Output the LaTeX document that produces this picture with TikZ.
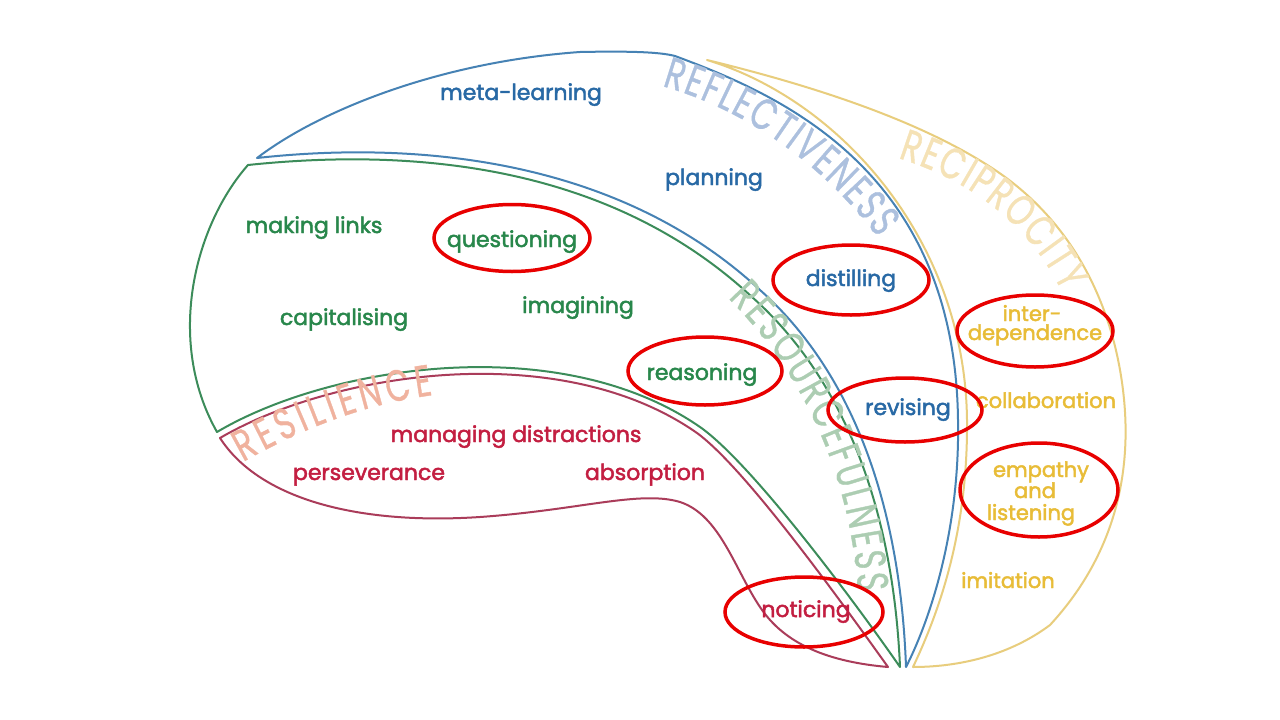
\documentclass[tikz,border=0pt]{standalone}
\usepackage{fontspec}
\setmainfont{Poppins}
\newfontfamily\wordfont{Poppins}[FakeBold=2.2]
\newfontfamily\labfont[FakeStretch=0.72,FakeBold=0.8]{Poppins}
\usetikzlibrary{decorations.text}
\definecolor{blueline}{RGB}{70,130,180}
\definecolor{greenline}{RGB}{60,140,90}
\definecolor{redline}{RGB}{170,60,90}
\definecolor{yellowline}{RGB}{232,205,125}
\definecolor{bluetext}{RGB}{40,105,165}
\definecolor{greentext}{RGB}{40,135,75}
\definecolor{redtext}{RGB}{195,30,65}
\definecolor{yellowtext}{RGB}{232,188,55}
\definecolor{reflc}{RGB}{172,192,222}
\definecolor{recipc}{RGB}{245,226,182}
\definecolor{resourc}{RGB}{172,205,178}
\definecolor{resilc}{RGB}{240,178,158}
\definecolor{hlred}{RGB}{232,0,0}
\newcommand\biglab{\labfont\fontsize{44}{44}\selectfont}
\begin{document}
\begin{tikzpicture}[x=1pt,y=1pt,
  region/.style={line width=2pt,line join=round},
  word/.style={font=\wordfont\fontsize{22}{24}\selectfont,anchor=base,inner sep=0pt},
  bw/.style={word,text=bluetext},
  gw/.style={word,text=greentext},
  rw/.style={word,text=redtext},
  yw/.style={word,text=yellowtext,font=\wordfont\fontsize{21}{22}\selectfont},
  hl/.style={draw=hlred,line width=3.5pt},
  biglabel/.style={decorate,decoration={text along path,text align={fit to path},text={#1}}}
]
\useasboundingbox (0,0) rectangle (1280,-720);
\fill[white] (0,0) rectangle (1280,-720);

% Reflectiveness (blue)
\draw[region,draw=blueline] (257,-158) .. controls (320,-110) and (440,-62) .. (580,-52)
  .. controls (630,-51) and (660,-52) .. (675,-56)
  .. controls (780,-95) and (955,-170) .. (958,-420)
  .. controls (960,-530) and (930,-620) .. (906,-667)
  .. controls (900,-500) and (850,-370) .. (760,-290)
  .. controls (620,-160) and (420,-140) .. cycle;

% Resourcefulness (green)
\draw[region,draw=greenline] (248,-165) .. controls (420,-147) and (612,-167) .. (752,-297)
  .. controls (842,-377) and (893,-505) .. (900,-667)
  .. controls (850,-595) and (750,-462) .. (700,-427)
  .. controls (560,-330) and (330,-365) .. (217,-432)
  .. controls (165,-340) and (195,-225) .. cycle;

% Resilience (red)
\draw[region,draw=redline] (220,-438) .. controls (333,-372) and (560,-337) .. (697,-433)
  .. controls (745,-468) and (840,-600) .. (888,-667)
  .. controls (830,-662) and (785,-645) .. (760,-607)
  .. controls (735,-570) and (720,-515) .. (680,-502)
  .. controls (640,-490) and (580,-510) .. (480,-517)
  .. controls (360,-525) and (260,-500) .. cycle;

% Reciprocity (yellow)
\draw[region,draw=yellowline] (707,-60) .. controls (810,-85) and (920,-120) .. (995,-170)
  .. controls (1070,-220) and (1112,-300) .. (1123,-390)
  .. controls (1134,-480) and (1110,-560) .. (1050,-625)
  .. controls (1010,-655) and (960,-667) .. (913,-667)
  .. controls (940,-610) and (968,-530) .. (967,-420)
  .. controls (965,-240) and (840,-100) .. cycle;

% faint region labels
\path[biglabel={|\biglab\color{reflc}|REFLECTIVENESS}]
  (662,-86) .. controls (740,-108) and (820,-160) .. (878,-238);
\path[biglabel={|\biglab\color{recipc}|RECIPROCITY}]
  (898,-158) .. controls (970,-180) and (1030,-225) .. (1062,-292);
\path[biglabel={|\biglab\color{resourc}|RESOURCEFULNESS}]
  (728,-298) .. controls (800,-370) and (850,-470) .. (858,-592);
\path[biglabel={|\biglab\color{resilc}|RESILIENCE}]
  (243,-462) .. controls (300,-430) and (360,-405) .. (433,-395);

% words
\node[bw] (metalearning) at (521,-100) {meta-learning};
\node[bw] (planning) at (714,-185) {planning};
\node[bw] (distilling) at (851,-286) {distilling};
\node[bw] (revising) at (908,-415) {revising};
\node[gw] (makinglinks) at (314,-233) {making links};
\node[gw] (questioning) at (512,-247) {questioning};
\node[gw] (capitalising) at (344,-325) {capitalising};
\node[gw] (imagining) at (578,-313) {imagining};
\node[gw] (reasoning) at (702,-380) {reasoning};
\node[rw] (managing) at (516,-442) {managing distractions};
\node[rw] (perseverance) at (369,-480) {perseverance};
\node[rw] (absorption) at (645,-480) {absorption};
\node[rw] (noticing) at (806,-617) {noticing};
\node[yw] (inter) at (1032,-321) {inter-};
\node[yw] (dependence) at (1035,-340) {dependence};
\node[yw] (collaboration) at (1046,-408) {collaboration};
\node[yw] (empathy) at (1041,-477) {empathy};
\node[yw] (and) at (1035,-498) {and};
\node[yw] (listening) at (1031,-520) {listening};
\node[yw] (imitation) at (1008,-588) {imitation};

% red highlight ellipses
\draw[hl] (512,-238) ellipse [x radius=78,y radius=33.5];
\draw[hl] (851,-280) ellipse [x radius=78,y radius=35];
\draw[hl] (1035,-331) ellipse [x radius=78,y radius=36];
\draw[hl] (705,-371) ellipse [x radius=77,y radius=34];
\draw[hl] (905,-410) ellipse [x radius=77,y radius=32];
\draw[hl] (1039,-490) ellipse [x radius=79,y radius=47];
\draw[hl] (804,-612) ellipse [x radius=79,y radius=35];
\end{tikzpicture}
\end{document}
